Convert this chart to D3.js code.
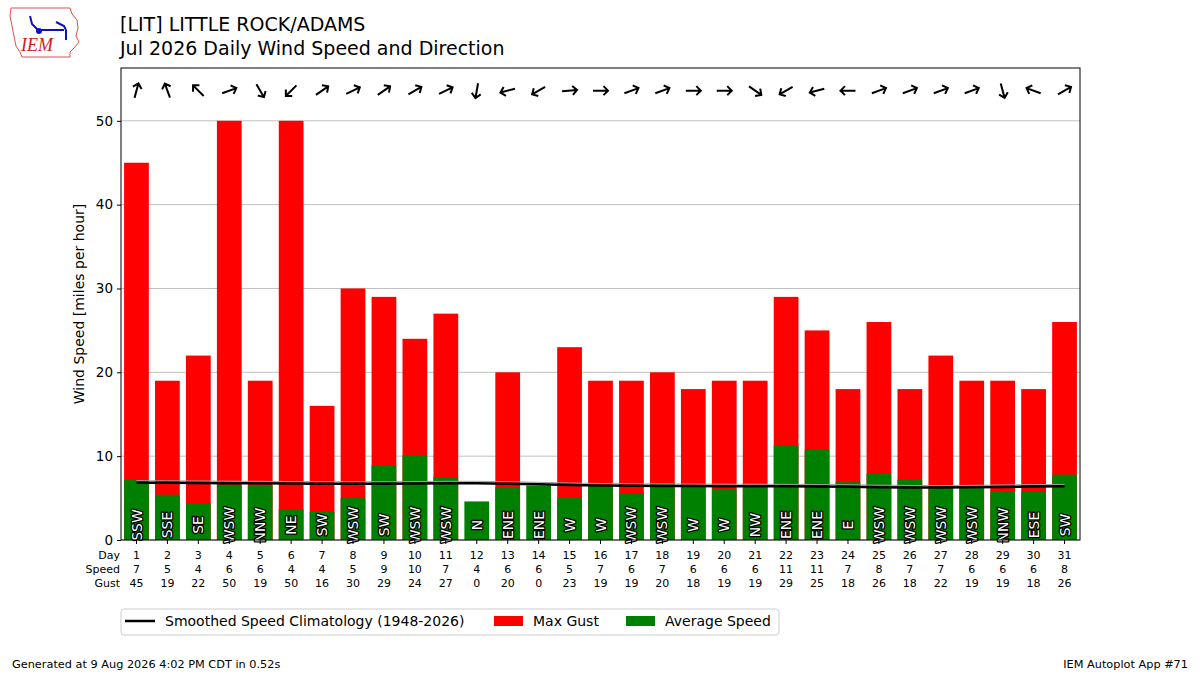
<!DOCTYPE html>
<html>
<head>
<meta charset="utf-8">
<script src="https://cdn.jsdelivr.net/npm/d3@7"></script>
<style>
  body { margin: 0; background: #fff; }
  svg { font-family: "DejaVu Sans", sans-serif; }
</style>
</head>
<body>
<div id="chart-area"></div>
<script>
const days = d3.range(1, 32);
const avgSpeed = [7.2, 5.4, 4.4, 6.6, 6.5, 3.7, 3.4, 5.0, 8.9, 10.1, 7.5, 4.6, 6.3, 6.5, 5.0,
  6.5, 5.6, 6.8, 6.5, 6.1, 6.4, 11.3, 10.8, 6.9, 7.9, 7.2, 6.5, 6.4, 5.8, 5.8, 7.8];
const speedLabels = [7, 5, 4, 6, 6, 4, 4, 5, 9, 10, 7, 4, 6, 6, 5,
  7, 6, 7, 6, 6, 6, 11, 11, 7, 8, 7, 7, 6, 6, 6, 8];
const maxGust = [45, 19, 22, 50, 19, 50, 16, 30, 29, 24, 27, 0, 20, 0, 23,
  19, 19, 20, 18, 19, 19, 29, 25, 18, 26, 18, 22, 19, 19, 18, 26];
const dirLabels = ["SSW", "SSE", "SE", "WSW", "NNW", "NE", "SW", "WSW", "SW", "WSW", "WSW", "N", "ENE", "ENE", "W",
  "W", "WSW", "WSW", "W", "W", "NW", "ENE", "ENE", "E", "WSW", "WSW", "WSW", "WSW", "NNW", "ESE", "SW"];
// direction wind comes from, degrees
const dirDeg = [195, 160, 135, 250, 330, 45, 235, 245, 235, 240, 245, 10, 75, 60, 265,
  270, 250, 250, 270, 270, 305, 60, 75, 90, 250, 250, 250, 250, 345, 110, 240];
const climo = [6.84, 6.82, 6.80, 6.78, 6.76, 6.74, 6.72, 6.71, 6.71, 6.73, 6.76, 6.76, 6.72, 6.64, 6.56,
  6.50, 6.47, 6.45, 6.43, 6.42, 6.41, 6.40, 6.38, 6.35, 6.30, 6.27, 6.25, 6.28, 6.33, 6.37, 6.40];
const yTicks = [0, 10, 20, 30, 40, 50];

const margin = { left: 121, right: 120, top: 68, bottom: 135 };
const width = 1200 - margin.left - margin.right;
const height = 675 - margin.top - margin.bottom;

const svg = d3.select("#chart-area")
  .append("svg")
  .attr("width", 1200)
  .attr("height", 675);

const g = svg.append("g")
  .attr("transform", "translate(" + margin.left + ", " + margin.top + ")");

const x = d3.scaleBand()
  .domain(days)
  .range([0, width])
  .paddingInner(0.2)
  .paddingOuter(0.1);

const y = d3.scaleLinear()
  .domain([0, 56.3])
  .range([height, 0]);

// grid
g.selectAll(".grid")
  .data(yTicks)
  .enter().append("line")
  .attr("x1", 0)
  .attr("x2", width)
  .attr("y1", d => y(d))
  .attr("y2", d => y(d))
  .attr("stroke", "#b0b0b0")
  .attr("stroke-width", 0.8);

// gust bars
g.selectAll(".gust")
  .data(days)
  .enter().append("rect")
  .attr("x", d => x(d))
  .attr("width", x.bandwidth())
  .attr("y", (d, i) => y(maxGust[i]))
  .attr("height", (d, i) => height - y(maxGust[i]))
  .attr("fill", "#ff0000");

// average speed bars
g.selectAll(".avg")
  .data(days)
  .enter().append("rect")
  .attr("x", d => x(d))
  .attr("width", x.bandwidth())
  .attr("y", (d, i) => y(avgSpeed[i]))
  .attr("height", (d, i) => height - y(avgSpeed[i]))
  .attr("fill", "#008000");

// climatology line (thin gray shadow then black)
const line = d3.line()
  .x((d, i) => x(days[i]) + x.bandwidth() / 2)
  .y(d => y(d));

g.append("path")
  .datum(climo)
  .attr("d", line)
  .attr("transform", "translate(0,-2)")
  .attr("fill", "none")
  .attr("stroke", "#a0a0a0")
  .attr("stroke-width", 1);

g.append("path")
  .datum(climo)
  .attr("d", line)
  .attr("fill", "none")
  .attr("stroke", "black")
  .attr("stroke-width", 2.5);

// direction labels inside bars
g.selectAll(".dirlab")
  .data(days)
  .enter().append("text")
  .attr("transform", d => "translate(" + (x(d) + x.bandwidth() / 2) + "," + (height - 15) + ") rotate(-90)")
  .attr("text-anchor", "middle")
  .attr("dy", "0.36em")
  .attr("font-size", 14)
  .attr("fill", "white")
  .attr("stroke", "black")
  .attr("stroke-width", 2.6)
  .attr("paint-order", "stroke")
  .attr("stroke-linejoin", "round")
  .text((d, i) => dirLabels[i]);

// direction arrows
g.selectAll(".arrow")
  .data(days)
  .enter().append("path")
  .attr("transform", (d, i) => "translate(" + (x(d) + x.bandwidth() / 2) + "," + (y(53.6)) + ") rotate(" + ((dirDeg[i] + 180) % 360 - 90) + ")")
  .attr("d", "M-7.5,0 L7.5,0 M3,-4.5 L7.5,0 L3,4.5")
  .attr("fill", "none")
  .attr("stroke", "black")
  .attr("stroke-width", 2);

// axes frame
g.append("rect")
  .attr("width", width)
  .attr("height", height)
  .attr("fill", "none")
  .attr("stroke", "black")
  .attr("stroke-width", 1);

const yAxis = d3.axisLeft(y).tickValues(yTicks).tickSize(4).tickPadding(4);
g.append("g")
  .call(yAxis)
  .call(a => a.select(".domain").remove())
  .selectAll("text")
  .attr("font-size", 13.5)
  .attr("font-family", "DejaVu Sans")
  .attr("fill", "black");

const xAxis = d3.axisBottom(x).tickSize(4).tickFormat("");
g.append("g")
  .attr("transform", "translate(0," + height + ")")
  .call(xAxis)
  .call(a => a.select(".domain").remove());

g.append("text")
  .attr("transform", "translate(-37," + (height / 2) + ") rotate(-90)")
  .attr("text-anchor", "middle")
  .attr("font-size", 14)
  .text("Wind Speed [miles per hour]");

// table below
const rows = [
  { name: "Day", vals: days, yy: 19 },
  { name: "Speed", vals: speedLabels, yy: 33 },
  { name: "Gust", vals: maxGust, yy: 47 }
];
rows.forEach(r => {
  g.append("text")
    .attr("x", -1)
    .attr("y", height + r.yy)
    .attr("text-anchor", "end")
    .attr("font-size", 11)
    .text(r.name);
  g.selectAll(".row-" + r.name)
    .data(r.vals)
    .enter().append("text")
    .attr("x", (d, i) => x(days[i]) + x.bandwidth() / 2)
    .attr("y", height + r.yy)
    .attr("text-anchor", "middle")
    .attr("font-size", 11)
    .text(d => d);
});

// titles
svg.append("text").attr("x", 120).attr("y", 31).attr("font-size", 19)
  .text("[LIT] LITTLE ROCK/ADAMS");
svg.append("text").attr("x", 120).attr("y", 55).attr("font-size", 19)
  .text("Jul 2026 Daily Wind Speed and Direction");

// legend
const lg = svg.append("g").attr("transform", "translate(121,609)");
lg.append("rect")
  .attr("width", 658).attr("height", 26).attr("rx", 3)
  .attr("fill", "white").attr("stroke", "#cccccc");
lg.append("line").attr("x1", 4).attr("x2", 34).attr("y1", 12).attr("y2", 12)
  .attr("stroke", "black").attr("stroke-width", 2.5);
lg.append("text").attr("x", 44).attr("y", 17).attr("font-size", 14)
  .text("Smoothed Speed Climatology (1948-2026)");
lg.append("rect").attr("x", 373).attr("y", 7).attr("width", 29).attr("height", 10).attr("fill", "#ff0000");
lg.append("text").attr("x", 412).attr("y", 17).attr("font-size", 14).text("Max Gust");
lg.append("rect").attr("x", 505).attr("y", 7).attr("width", 29).attr("height", 10).attr("fill", "#008000");
lg.append("text").attr("x", 544).attr("y", 17).attr("font-size", 14).text("Average Speed");

// footer
svg.append("text").attr("x", 12).attr("y", 668).attr("font-size", 11.3)
  .text("Generated at 9 Aug 2026 4:02 PM CDT in 0.52s");
svg.append("text").attr("x", 1188).attr("y", 668).attr("font-size", 11.3)
  .attr("text-anchor", "end").text("IEM Autoplot App #71");

// logo
const logo = svg.append("g").attr("transform", "translate(8,6)");
logo.append("path")
  .attr("d", "M3,2 L62,2 L64,8 L69,14 L70,22 L68,30 L71,36 L66,42 L62,46 L62,51 L14,51 L12,46 L8,40 L6,30 L4,20 L2,10 Z")
  .attr("fill", "white").attr("stroke", "#e05050").attr("stroke-width", 1);
logo.append("path")
  .attr("d", "M22,10 L24,18 L30,24 M30,24 L56,24 M48,16 L56,20 L58,24 M58,24 L58,34")
  .attr("fill", "none").attr("stroke", "#1010c0").attr("stroke-width", 2);
logo.append("circle").attr("cx", 31).attr("cy", 25).attr("r", 3).attr("fill", "#1010c0");
logo.append("text").attr("x", 13).attr("y", 45).attr("font-family", "Liberation Serif")
  .attr("font-style", "italic").attr("font-size", 18).attr("fill", "#d02020").text("IEM");
</script>
</body>
</html>
